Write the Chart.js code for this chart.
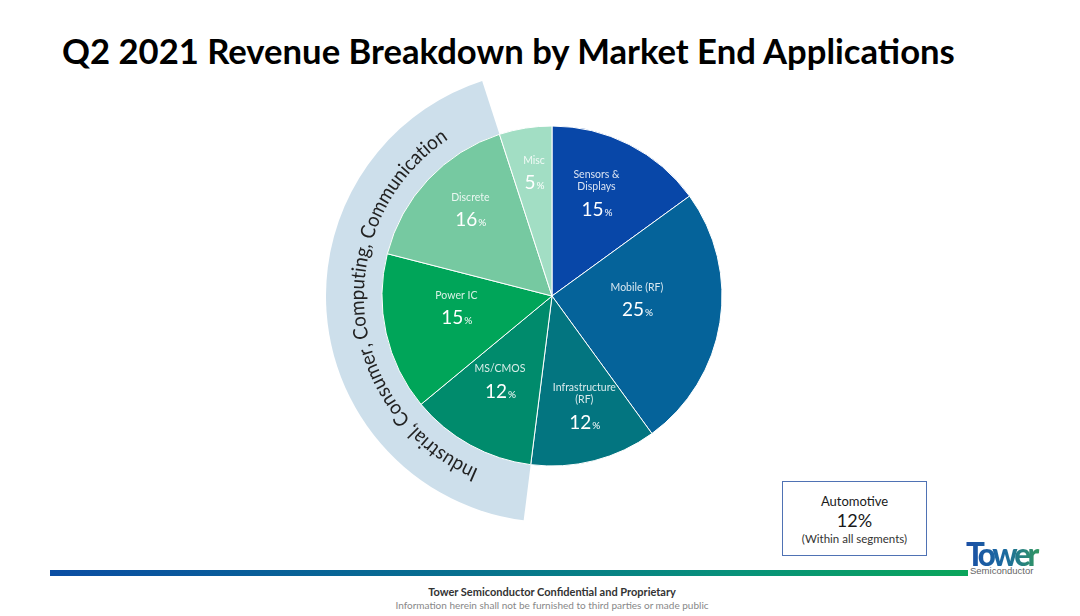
<!DOCTYPE html>
<html>
<head>
<meta charset="utf-8">
<script src="https://cdn.jsdelivr.net/npm/chart.js@4.4.0/dist/chart.umd.min.js"></script>
<style>
  body { margin: 0; width: 1080px; height: 616px; background: #fff; position: relative; overflow: hidden; font-family: Lato, "Open Sans", sans-serif; }
  #title { position: absolute; left: 62px; top: 30px; font-weight: bold; font-size: 31px; white-space: nowrap; color: #000; }
  #wrap { position: absolute; left: 326px; top: 70px; width: 452px; height: 452px; }
  #auto { position: absolute; left: 782px; top: 481px; width: 143px; height: 73px; border: 1px solid #4f72b4; text-align: center; color: #1a1a1a; }
  #auto .a { font-size: 13px; margin-top: 11px; line-height: 16px; }
  #auto .b { font-size: 18px; line-height: 22px; }
  #auto .c { font-size: 11.5px; line-height: 15px; color: #333; }
  #rule { position: absolute; left: 50px; top: 570px; width: 918px; height: 6px; background: linear-gradient(90deg, #0b4da3 0%, #07708f 45%, #08927a 75%, #0aa55b 100%); }
  #logo { position: absolute; left: 966px; top: 535px; width: 90px; }
  #logo .t { font-family: Lato, sans-serif; font-weight: 900; font-size: 33px; letter-spacing: -3.5px; line-height: 36px; transform: scaleX(0.95); transform-origin: left; background: linear-gradient(90deg, #1b4fa5 0%, #1b6aa0 45%, #3aa84a 100%); -webkit-background-clip: text; background-clip: text; color: transparent; }
  #logo .s { font-family: "Liberation Sans", sans-serif; font-size: 9.5px; color: #666; margin-top: -6px; margin-left: 4px; }
  #foot1 { position: absolute; left: 0; width: 1104px; top: 585px; text-align: center; font-weight: bold; font-size: 11px; color: #333; }
  #foot2 { position: absolute; left: 0; width: 1104px; top: 599px; text-align: center; font-size: 10px; color: #888; }
</style>
</head>
<body>
<div id="title">Q2 2021 Revenue Breakdown by Market End Applications</div>
<div id="wrap"><canvas id="pie" width="452" height="452"></canvas></div>
<div id="auto"><div class="a">Automotive</div><div class="b">12%</div><div class="c">(Within all segments)</div></div>
<div id="rule"></div>
<div id="logo"><div class="t">Tower</div><div class="s">Semiconductor</div></div>
<div id="foot1">Tower Semiconductor Confidential and Proprietary</div>
<div id="foot2">Information herein shall not be furnished to third parties or made public</div>
<script>
// slices, clockwise from 12 o'clock
const categories = [['Sensors &', 'Displays'], ['Mobile (RF)'], ['Infrastructure', '(RF)'], ['MS/CMOS'], ['Power IC'], ['Discrete'], ['Misc']];
const shares = [15, 25, 12, 12, 15, 16, 5];
const sliceColors = ['#0847a8', '#05639a', '#037580', '#008b6c', '#00a559', '#76c9a1', '#a2dec4'];
// slices grouped under the curved band
const segmentTitle = 'Industrial, Consumer, Computing, Communication';
const segmentSlices = [3, 4, 5];

// stretch the title to the slide width
const title = document.getElementById('title');
title.style.fontSize = (31 * 893 / title.offsetWidth) + 'px';

const decor = {
  id: 'decor',
  beforeDatasetsDraw(chart, args, opts) {
    const arcs = chart.getDatasetMeta(0).data;
    const a0 = arcs[segmentSlices[0]].startAngle;
    const a1 = arcs[segmentSlices[segmentSlices.length - 1]].endAngle;
    const { x, y, outerRadius } = arcs[0];
    const ctx = chart.ctx;
    ctx.save();
    ctx.beginPath();
    ctx.moveTo(x, y);
    ctx.arc(x, y, outerRadius + opts.band, a0, a1);
    ctx.closePath();
    ctx.fillStyle = opts.bandColor;
    ctx.fill();

    // curved caption, letters upright outward, a bit narrowed
    const r = outerRadius + opts.textOffset;
    const sq = opts.textSqueeze;
    ctx.font = opts.textFont;
    ctx.fillStyle = '#222';
    ctx.textAlign = 'center';
    ctx.textBaseline = 'alphabetic';
    const w = ctx.measureText(segmentTitle).width * sq;
    let t = (a0 + a1) / 2 - w / r / 2;
    for (const ch of segmentTitle) {
      const cw = ctx.measureText(ch).width * sq;
      const th = t + cw / 2 / r;
      ctx.save();
      ctx.translate(x + r * Math.cos(th), y + r * Math.sin(th));
      ctx.rotate(th + Math.PI / 2);
      ctx.scale(sq, 1);
      ctx.fillText(ch, 0, 0);
      ctx.restore();
      t += cw / r;
    }
    ctx.restore();
  },
  afterDatasetsDraw(chart, args, opts) {
    const arcs = chart.getDatasetMeta(0).data;
    const ctx = chart.ctx;
    ctx.save();
    arcs.forEach((arc, i) => {
      const mid = (arc.startAngle + arc.endAngle) / 2;
      const ax = arc.x + opts.labelRadius[i] * Math.cos(mid);
      const ay = arc.y + opts.labelRadius[i] * Math.sin(mid);
      const lines = categories[i];
      ctx.textAlign = 'center';
      ctx.textBaseline = 'middle';
      ctx.font = '10.5px Lato';
      ctx.fillStyle = 'rgba(255,255,255,0.85)';
      lines.forEach((ln, k) => ctx.fillText(ln, ax, ay - 22 - 12 * (lines.length - 1 - k)));
      const num = String(shares[i]);
      ctx.font = '19px Lato';
      const nw = ctx.measureText(num).width;
      ctx.font = '10px Lato';
      const pw = ctx.measureText('%').width;
      const sx = ax - (nw + pw) / 2;
      ctx.textAlign = 'left';
      ctx.textBaseline = 'alphabetic';
      ctx.fillStyle = '#fff';
      ctx.font = '19px Lato';
      ctx.fillText(num, sx, ay + 7);
      ctx.font = '10px Lato';
      ctx.fillText('%', sx + nw + 1, ay + 7);
    });
    ctx.restore();
  }
};

new Chart(document.getElementById('pie'), {
  type: 'pie',
  data: {
    labels: categories,
    datasets: [{
      data: shares,
      backgroundColor: sliceColors,
      borderColor: '#fff',
      borderWidth: 1,
      hoverOffset: 0
    }]
  },
  options: {
    responsive: false,
    animation: false,
    radius: 170,
    events: [],
    plugins: {
      legend: { display: false },
      tooltip: { enabled: false },
      decor: {
        band: 56,
        bandColor: '#cddfeb',
        textOffset: 18,
        textFont: '20px Lato',
        textSqueeze: 0.93,
        labelRadius: [98, 86, 130, 108, 98, 112, 115]
      }
    }
  },
  plugins: [decor]
});
</script>
</body>
</html>
